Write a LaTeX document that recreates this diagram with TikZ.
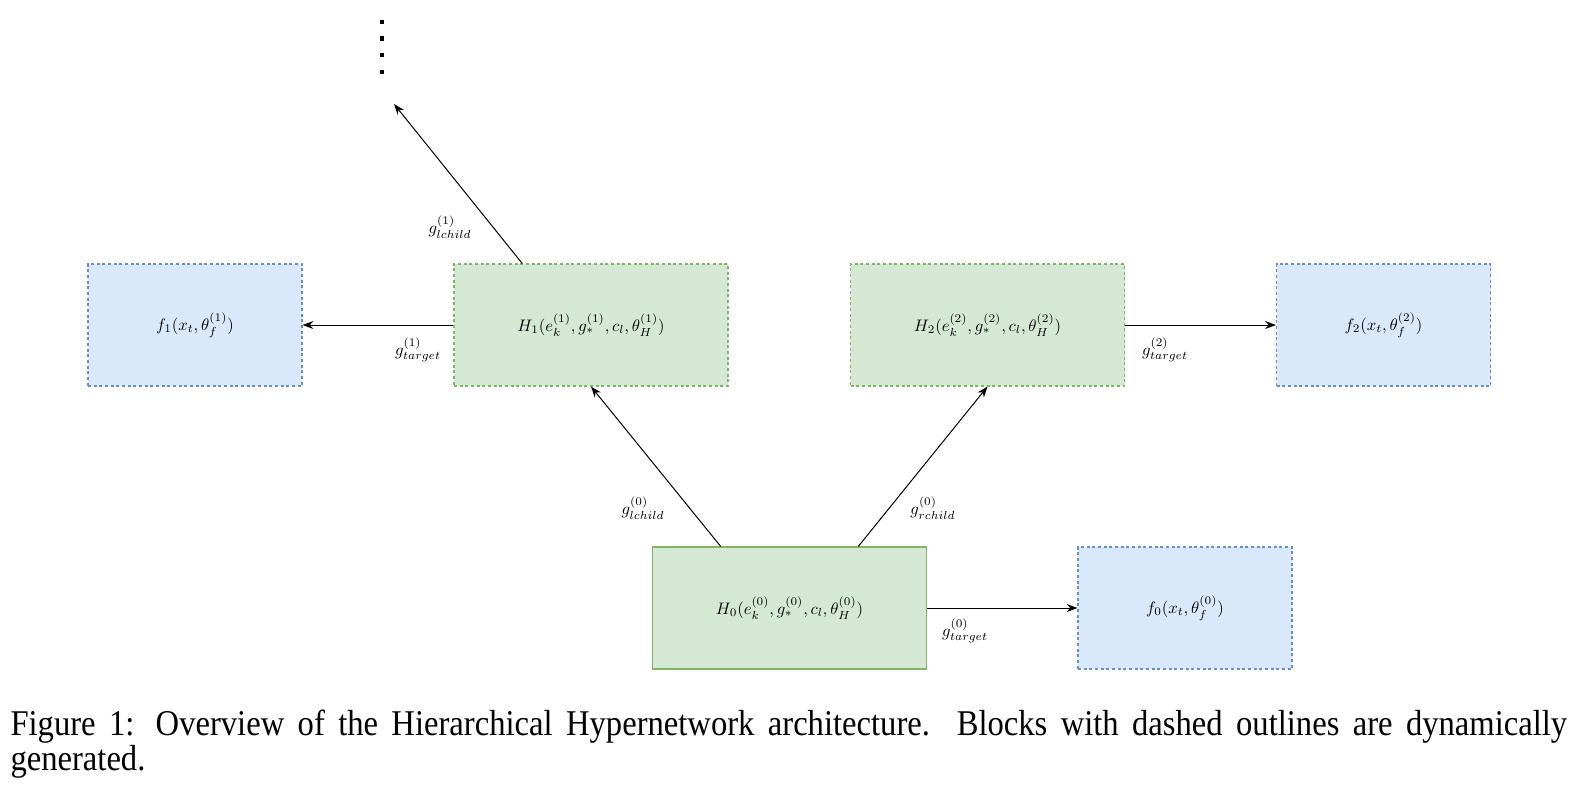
\documentclass[tikz,border=0pt]{standalone}
\usepackage{fontspec}
\newfontfamily\capfont[FakeStretch=0.9]{Liberation Serif}
\usetikzlibrary{arrows.meta,calc}
\definecolor{hgreen}{HTML}{D5E8D4}
\definecolor{hgreenline}{HTML}{82B366}
\definecolor{fblue}{HTML}{DAE8FC}
\definecolor{fblueline}{HTML}{6C8EBF}
\tikzset{
  hyper/.style={draw=hgreenline, fill=hgreen, line width=0.65pt,
    minimum width=164.4pt, minimum height=73.2pt, inner sep=0pt},
  target/.style={draw=fblueline, fill=fblue, line width=0.65pt,
    minimum width=128.4pt, minimum height=73.2pt, inner sep=0pt},
  gen/.style={dash pattern=on 1.8pt off 1.6pt},
  glabel/.style={inner sep=0pt},
}
\begin{document}
\begin{tikzpicture}[x=0.6pt, y=-0.6pt, >={Stealth[length=6.5pt,width=4.8pt]}, line width=0.6pt]
\useasboundingbox (0,0) rectangle (1579,792);

% hypernetworks
\node[hyper] (H0) at (789.5,608) {$H_0(e_k^{(0)},g_*^{(0)},c_l,\theta_H^{(0)})$};
\node[hyper,gen] (H1) at (591,325) {$H_1(e_k^{(1)},g_*^{(1)},c_l,\theta_H^{(1)})$};
\node[hyper,gen] (H2) at (987.5,325) {$H_2(e_k^{(2)},g_*^{(2)},c_l,\theta_H^{(2)})$};

% target networks
\node[target,gen] (f0) at (1185,608) {$f_0(x_t,\theta_f^{(0)})$};
\node[target,gen] (f1) at (195,325) {$f_1(x_t,\theta_f^{(1)})$};
\node[target,gen] (f2) at (1383.5,325) {$f_2(x_t,\theta_f^{(2)})$};

\coordinate (up) at (394,104);
\foreach \y in {21.7,38.3,55,71.7}
    \fill (382,\y) ++(-2.2,-2.2) rectangle ++(4.4,4.4);

\draw[->] ($(H0.north west)!.25!(H0.north east)$) -- (H1.south);
\draw[->] ($(H0.north west)!.75!(H0.north east)$) -- (H2.south);
\draw[->] ($(H1.north west)!.25!(H1.north east)$) -- (up);
\draw[->] (H0.east) -- (f0.west);
\draw[->] (H1.west) -- (f1.east);
\draw[->] (H2.east) -- (f2.west);

\node[glabel] (gl1) at (450,227) {$g_{lchild}^{(1)}$};
\node[glabel] (gt1) at (418,350) {$g_{target}^{(1)}$};
\node[glabel] (gl0) at (643,508) {$g_{lchild}^{(0)}$};
\node[glabel] (gr0) at (933,508) {$g_{rchild}^{(0)}$};
\node[glabel] (gt0) at (965,631) {$g_{target}^{(0)}$};
\node[glabel] (gt2) at (1165,350) {$g_{target}^{(2)}$};

% caption
\node[anchor=north west, text width=934pt, align=justify, inner sep=0pt,
  font=\capfont\fontsize{21.75}{21}\selectfont] (cap) at (10,709)
  {Figure 1: Overview of the Hierarchical Hypernetwork architecture.\ \ Blocks with dashed outlines are dynamically\linebreak generated.};
\end{tikzpicture}
\end{document}
